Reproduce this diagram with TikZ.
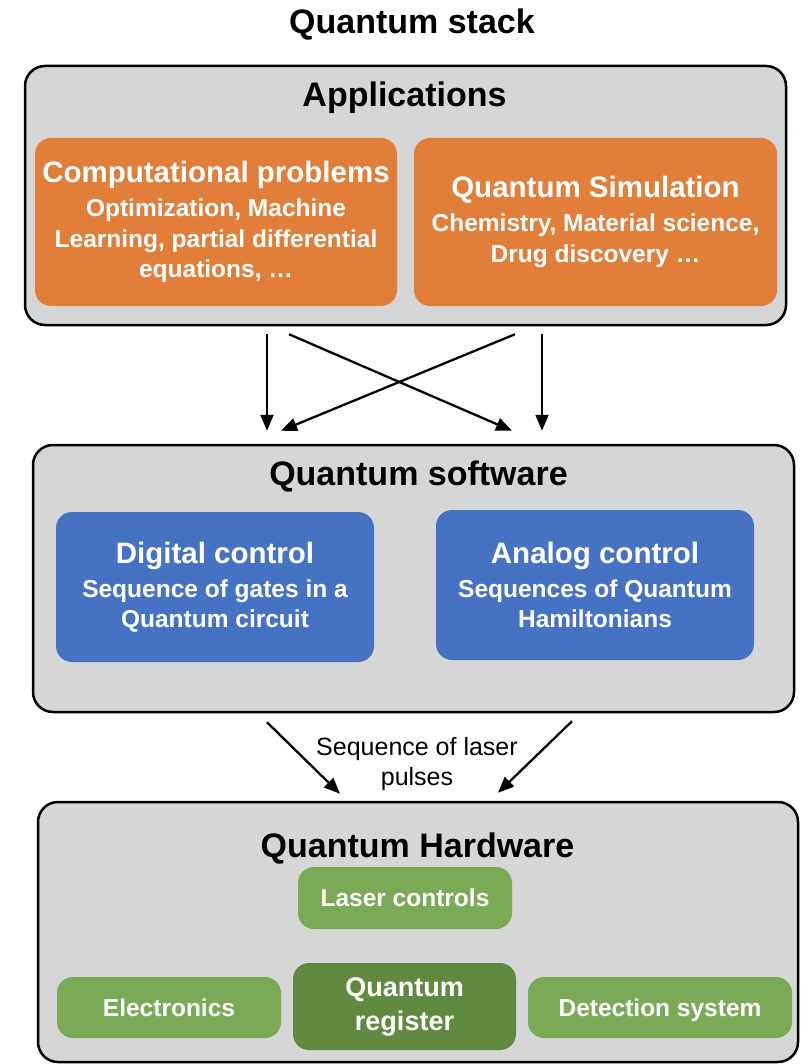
\documentclass[tikz,border=0pt]{standalone}
\usepackage{fontspec}
\setmainfont{Liberation Sans}
\usepackage{xcolor}
\usetikzlibrary{arrows.meta,positioning}
\definecolor{panelgray}{RGB}{214,214,214}
\definecolor{apporange}{RGB}{225,126,58}
\definecolor{softblue}{RGB}{70,114,196}
\definecolor{hwgreen}{RGB}{122,170,86}
\definecolor{hwdark}{RGB}{95,138,64}
\newcommand{\secfont}{\fontsize{34}{40}\bfseries\selectfont}
\newcommand{\headfont}{\fontsize{29.5}{35}\bfseries\selectfont}
\newcommand{\bodyfont}{\fontsize{24.5}{30.5}\bfseries\selectfont}

\begin{document}
\begin{tikzpicture}[x=1pt,y=-1pt,
	panel/.style={draw=black,line width=2.5pt,fill=panelgray,rounded corners=20pt,inner sep=0pt},
	tile/.style={rounded corners=16pt,inner sep=0pt,text=white,align=center,font=\bodyfont},
	flow/.style={-{Triangle[length=16pt,width=13pt]},line width=2.3pt}]
	\useasboundingbox (0,0) rectangle (803,1064);
	\node (title) at (412,34) [anchor=base,font=\secfont] {Quantum stack};
	% applications
	\node (apps) at (405.5,195.5) [panel,minimum width=761pt,minimum height=259pt] {};
	\node (appshead) at (404.5,107) [anchor=base,font=\secfont] {Applications};
	\node (comp) at (216,222) [tile,fill=apporange,minimum width=362pt,minimum height=168pt]
		{{\headfont Computational problems}\\[3.5pt]Optimization, Machine\\Learning, partial differential\\equations, \dots};
	\node (sim) at (595.5,222) [tile,fill=apporange,minimum width=363pt,minimum height=168pt]
		{{\headfont Quantum Simulation}\\[3.5pt]Chemistry, Material science,\\Drug discovery \dots};
	% software
	\node (soft) at (413.5,578.5) [panel,minimum width=761pt,minimum height=267pt] {};
	\node (softhead) at (418.5,485) [anchor=base,font=\secfont] {Quantum software};
	\node (digital) at (215,587) [tile,fill=softblue,minimum width=318pt,minimum height=150pt]
		{{\headfont Digital control}\\[3.5pt]Sequence of gates in a\\Quantum circuit};
	\node (analog) at (595,585) [tile,fill=softblue,minimum width=318pt,minimum height=150pt]
		{{\headfont Analog control}\\[3.5pt]Sequences of Quantum\\Hamiltonians};
	% hardware
	\node (hw) at (418,932) [panel,minimum width=760pt,minimum height=260pt] {};
	\node (hwhead) at (417.5,857) [anchor=base,font=\secfont] {Quantum Hardware};
	\node (laser) at (405,898) [tile,fill=hwgreen,minimum width=214pt,minimum height=62pt] {Laser controls};
	\node (elec) at (169,1007.5) [tile,fill=hwgreen,minimum width=224pt,minimum height=61pt] {Electronics};
	\node (qreg) at (404.5,1006.5) [tile,fill=hwdark,minimum width=223pt,minimum height=87pt,
		font=\fontsize{27}{34}\bfseries\selectfont] {Quantum\\register};
	\node (detect) at (660,1007.5) [tile,fill=hwgreen,minimum width=264pt,minimum height=61pt,
		text depth=0pt] {Detection system};
	% arrows
	\draw [flow] ([xshift=-138.5pt,yshift=-8pt]apps.south) -- ([xshift=-146.5pt,yshift=13pt]soft.north);
	\draw [flow] ([xshift=136.5pt,yshift=-8pt]apps.south) -- ([xshift=128.5pt,yshift=13pt]soft.north);
	\draw [flow] ([xshift=-116.5pt,yshift=-8pt]apps.south) -- ([xshift=98.5pt,yshift=13pt]soft.north);
	\draw [flow] ([xshift=109.5pt,yshift=-8pt]apps.south) -- ([xshift=-132.5pt,yshift=13pt]soft.north);
	\draw [flow] ([xshift=-146.5pt,yshift=-9pt]soft.south) -- ([xshift=-78pt,yshift=7pt]hw.north);
	\draw [flow] ([xshift=158.5pt,yshift=-8pt]soft.south) -- ([xshift=80pt,yshift=8pt]hw.north);
	\node (pulses) at (417,764) [align=center,font=\fontsize{25}{30}\selectfont] {Sequence of laser\\pulses};
\end{tikzpicture}
\end{document}
